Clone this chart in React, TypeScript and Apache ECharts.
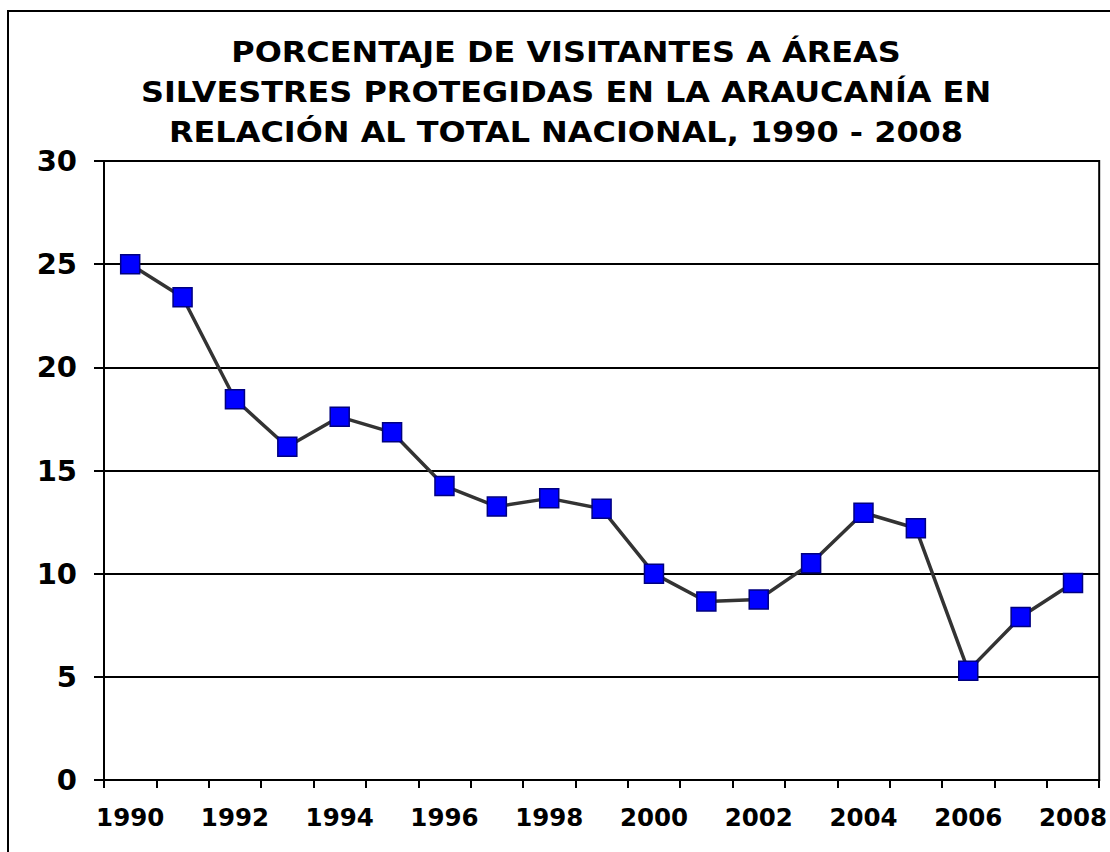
import React, { useEffect, useRef } from "react";
import * as echarts from "echarts";

const years = ["1990","1991","1992","1993","1994","1995","1996","1997","1998","1999","2000","2001","2002","2003","2004","2005","2006","2007","2008"];
const percentages = [25.0, 23.4, 18.45, 16.15, 17.6, 16.85, 14.25, 13.25, 13.65, 13.15, 10.0, 8.65, 8.75, 10.5, 12.95, 12.2, 5.3, 7.9, 9.55];
const titleLines = [
  "PORCENTAJE DE VISITANTES A ÁREAS",
  "SILVESTRES PROTEGIDAS EN LA ARAUCANÍA EN",
  "RELACIÓN AL TOTAL NACIONAL, 1990 - 2008",
];
const yMin = 0;
const yMax = 30;
const yStep = 5;

const FONT = "'DejaVu Sans', Verdana, sans-serif";

export default function App() {
  const ref = useRef<HTMLDivElement>(null);
  useEffect(() => {
    document.body.style.margin = "0";
    if (!ref.current) return;
    const chart = echarts.init(ref.current, null, { renderer: "svg" });
    chart.setOption({
      animation: false,
      backgroundColor: "#ffffff",
      graphic: [
        {
          type: "rect",
          shape: { x: 8, y: 11, width: 1120, height: 860 },
          style: { fill: "none", stroke: "#000", lineWidth: 2 },
          z: 10,
        },
        {
          type: "text",
          x: 566,
          y: 32,
          scaleX: 1.14,
          style: {
            text: titleLines.join("\n"),
            fontFamily: FONT,
            fontWeight: "bold",
            fontSize: 28,
            lineHeight: 40,
            textAlign: "center",
            textVerticalAlign: "top",
            fill: "#000",
          },
        },
      ],
      grid: {
        left: 104,
        top: 161,
        right: 7,
        bottom: 72,
        show: true,
        borderColor: "#000",
        borderWidth: 2,
        backgroundColor: "transparent",
      },
      xAxis: {
        type: "category",
        data: years,
        boundaryGap: true,
        axisLine: { show: true, lineStyle: { color: "#000", width: 2 } },
        axisTick: { show: true, interval: 0, length: 8, lineStyle: { color: "#000", width: 2 } },
        axisLabel: {
          interval: 1,
          color: "#000",
          fontFamily: FONT,
          fontWeight: "bold",
          fontSize: 24.5,
          margin: 25,
        },
        splitLine: { show: false },
      },
      yAxis: {
        type: "value",
        min: yMin,
        max: yMax,
        interval: yStep,
        axisLine: { show: true, lineStyle: { color: "#000", width: 2 } },
        axisTick: { show: true, length: 10, lineStyle: { color: "#000", width: 2 } },
        axisLabel: {
          color: "#000",
          fontFamily: FONT,
          fontWeight: "bold",
          fontSize: 29,
          margin: 27,
        },
        splitLine: { show: true, lineStyle: { color: "#000", width: 2 } },
      },
      series: [
        {
          type: "line",
          data: percentages,
          symbol: "rect",
          symbolSize: 19,
          lineStyle: { color: "#333333", width: 3.5 },
          itemStyle: { color: "#0000ff", borderColor: "#000080", borderWidth: 1.5 },
        },
      ],
    });
    return () => chart.dispose();
  }, []);
  return <div ref={ref} style={{ width: 1110, height: 852 }} />;
}
